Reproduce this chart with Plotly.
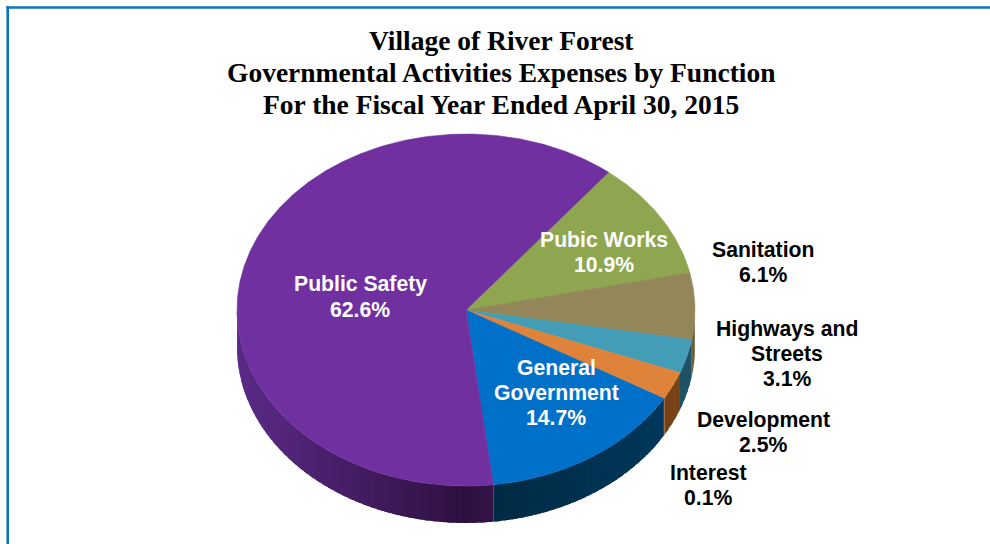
import math
import plotly.graph_objects as go

# Slices in clockwise drawing order, beginning at the Public Works edge
categories = ["Pubic Works", "Sanitation", "Highways and Streets", "Development",
              "Interest", "General Government", "Public Safety"]
shares = [10.9, 6.1, 3.1, 2.5, 0.1, 14.7, 62.6]
top_colors = ["#8DA64F", "#93875A", "#449DB6", "#E0833A", "#E0833A", "#0070C8", "#7030A0"]
side_dark = ["#3E3A1C", "#4A4426", "#143F52", "#5E3410", "#5E3410", "#002840", "#2E1040"]
side_light = ["#6B6A3A", "#6B623A", "#1E5468", "#7A4416", "#7A4416", "#00395E", "#5B2A88"]
label_text = ["Pubic Works<br>10.9%", "Sanitation<br>6.1%", "Highways and<br>Streets<br>3.1%",
              "Development<br>2.5%", "Interest<br>0.1%", "General<br>Government<br>14.7%",
              "Public Safety<br>62.6%"]
label_colors = ["white", "black", "black", "black", "black", "white", "white"]
label_px = [(604, 251.5), (763, 261.5), (787, 353.5), (763, 432), (708, 484.5), (556, 392),
            (360, 296.5)]
title_lines = ["Village of River Forest",
               "Governmental Activities Expenses by Function",
               "For the Fiscal Year Ended April 30, 2015"]

W, H = 990, 544
CX, CY, RX, RY = 466, 310, 229, 176
DEPTH = 37 / RY
START = 38.5
LINE_STEP = 25


def point(deg):
    rad = math.radians(deg)
    return math.sin(rad), math.cos(rad)


def arc(a, b, step=0.5):
    n = max(2, int(abs(b - a) / step) + 1)
    return [point(a + (b - a) * i / (n - 1)) for i in range(n)]


def mix(c1, c2, t):
    p = [int(c1[i:i + 2], 16) for i in (1, 3, 5)]
    q = [int(c2[i:i + 2], 16) for i in (1, 3, 5)]
    return "rgb(%d,%d,%d)" % tuple(round(u + (v - u) * t) for u, v in zip(p, q))


fig = go.Figure()


def polygon(pts, color, edge=0.6):
    xs = [p[0] for p in pts] + [pts[0][0]]
    ys = [p[1] for p in pts] + [pts[0][1]]
    fig.add_trace(go.Scatter(x=xs, y=ys, mode="lines", fill="toself", fillcolor=color,
                             line=dict(color=color, width=edge), hoverinfo="skip",
                             showlegend=False))


# Cumulative sweep of each slice, clockwise from twelve o'clock
spans = []
angle = START
for s in shares:
    spans.append((angle, angle + s * 3.6))
    angle += s * 3.6

# Visible rim of the disc. Each quad runs under the next one, which hides the seams
# between neighbouring shades.
for (a, b), light, dark in zip(spans, side_light, side_dark):
    lo, hi = max(a, 90), min(b, 270)
    if hi <= lo:
        continue
    steps = max(1, int((hi - lo) / 2))
    for i in range(steps):
        d0 = lo + (hi - lo) * i / steps
        d1 = lo + (hi - lo) * (i + 1) / steps
        seg = arc(d0, min(d1 + 1.5, hi))
        lower = [(x, y - DEPTH) for x, y in reversed(seg)]
        # darkest at the front of the disc, lighter towards the sides
        t = abs(math.sin(math.radians((d0 + d1) / 2)))
        polygon(seg + lower, mix(dark, light, t), edge=0)

# Top face
for (a, b), color in zip(spans, top_colors):
    polygon([(0, 0)] + arc(a, b), color)

annotations = []
for text, color, (px, py) in zip(label_text, label_colors, label_px):
    parts = text.split("<br>")
    for i, part in enumerate(parts):
        line_y = py + (i - (len(parts) - 1) / 2) * LINE_STEP
        annotations.append(dict(x=px / W, y=1 - line_y / H, xref="paper", yref="paper",
                                text="<b>%s</b>" % part, showarrow=False,
                                xanchor="center", yanchor="middle",
                                font=dict(family="Liberation Sans", size=21.2, color=color)))
for line, py in zip(title_lines, (41, 73, 105)):
    annotations.append(dict(x=501 / W, y=1 - py / H, xref="paper", yref="paper",
                            text="<b>%s</b>" % line, showarrow=False,
                            xanchor="center", yanchor="middle",
                            font=dict(family="Liberation Serif", size=27.5, color="black")))

BORDER = "#0E74BE"
frame = [
    dict(type="line", xref="paper", yref="paper", x0=7.7 / W, x1=7.7 / W, y0=0, y1=1 - 6 / H,
         line=dict(color=BORDER, width=2.6)),
    dict(type="line", xref="paper", yref="paper", x0=6.4 / W, x1=1, y0=1 - 7.5 / H, y1=1 - 7.5 / H,
         line=dict(color=BORDER, width=2.6)),
]

fig.update_layout(
    width=W, height=H, margin=dict(l=0, r=0, t=0, b=0),
    paper_bgcolor="white", plot_bgcolor="white", showlegend=False,
    xaxis=dict(range=[-CX / RX, (W - CX) / RX], visible=False, fixedrange=True),
    yaxis=dict(range=[(CY - H) / RY, CY / RY], visible=False, fixedrange=True),
    annotations=annotations, shapes=frame,
)
fig.write_html("out.html", config=dict(displayModeBar=False))
